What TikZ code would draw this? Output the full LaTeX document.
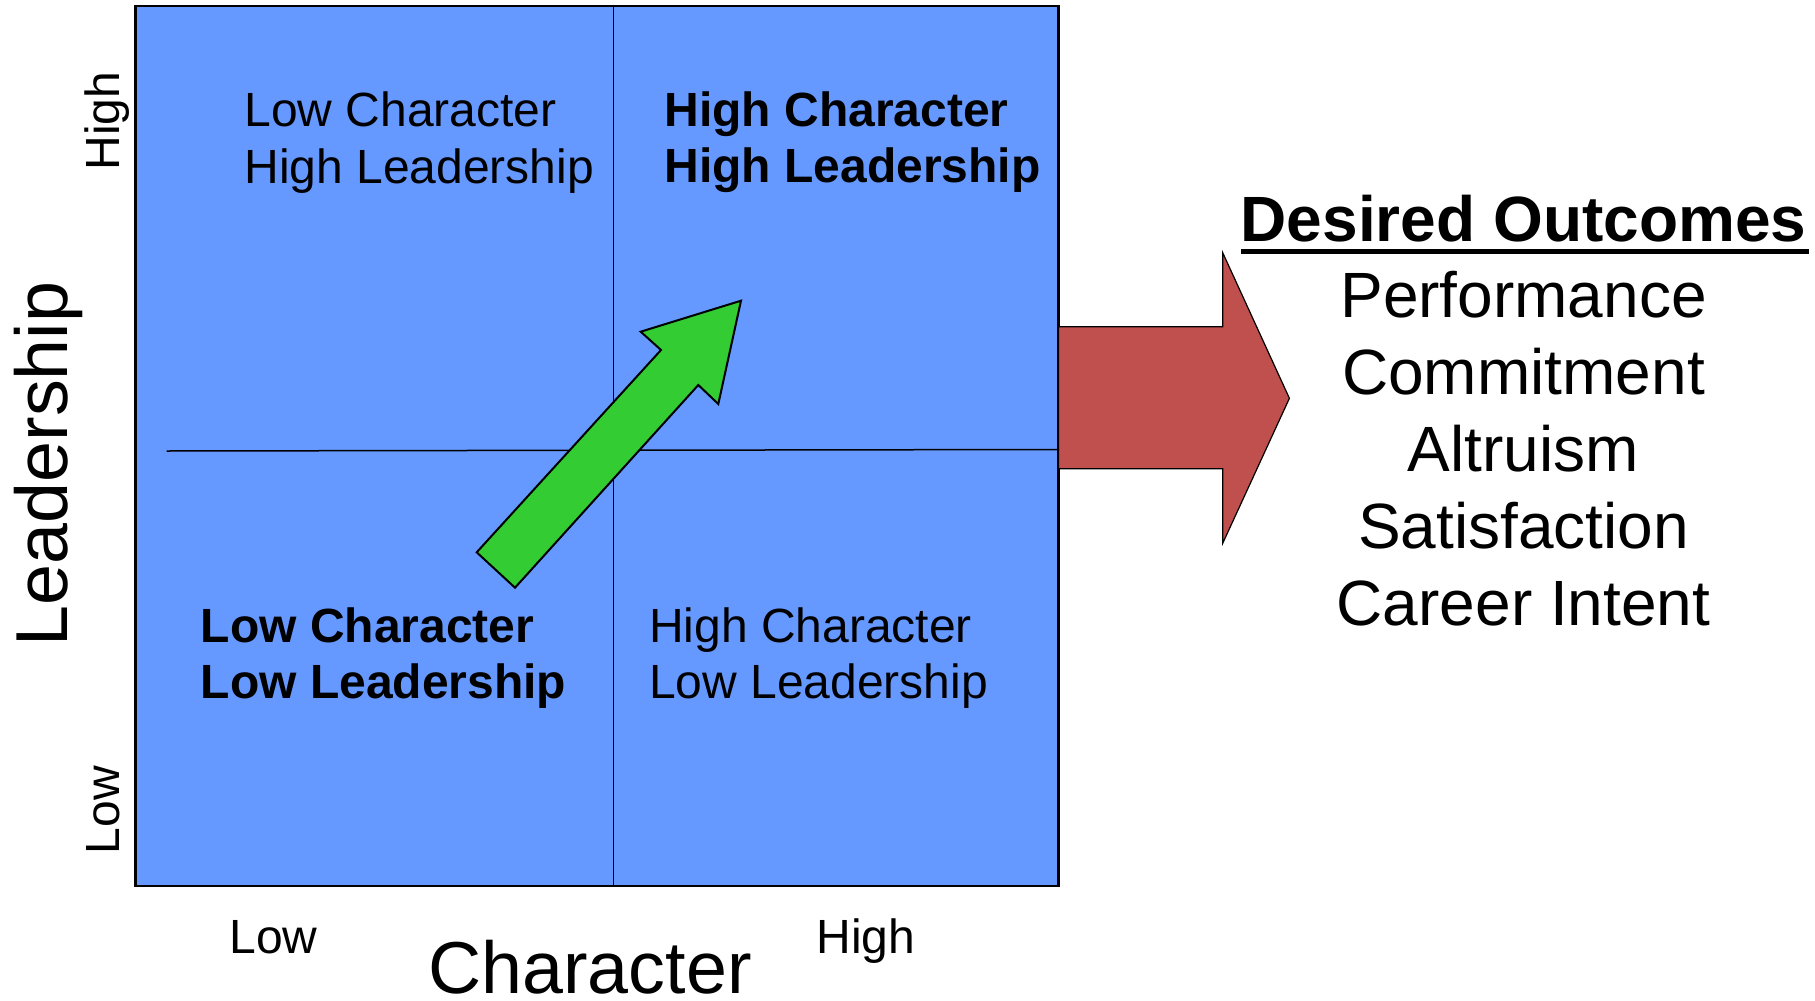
\documentclass[tikz,border=0pt]{standalone}
\usepackage{fontspec}
\setmainfont{Liberation Sans}
\usepackage{tikz}
\usetikzlibrary{positioning}

\definecolor{gridblue}{HTML}{6699FF}
\definecolor{upgreen}{HTML}{33CC33}
\definecolor{outred}{HTML}{C0504D}

\begin{document}
\begin{tikzpicture}[x=0.5pt, y=-0.5pt]
\tikzstyle{quadtext} = [inner sep=0, align=left, anchor=base west, font=\fontsize{24}{28.15}\selectfont]
\tikzstyle{quadbold} = [quadtext, font=\fontsize{24}{28.15}\selectfont\bfseries]
\tikzstyle{ticklabel} = [inner sep=0, anchor=base, font=\fontsize{24}{28}\selectfont]
\tikzstyle{axislabel} = [inner sep=0, anchor=base, font=\fontsize{36.8}{44}\selectfont]
\tikzstyle{outcome} = [inner sep=0, align=center, anchor=base, font=\fontsize{32}{38.5}\selectfont]

\useasboundingbox (0,0) rectangle (1815,1001);

% grid
\draw[fill=gridblue, line width=1.25pt] (135.5,6) rectangle (1058.5,886);

% red arrow to the outcomes
\draw[fill=outred, line width=0.6pt] (1058.5,326.7) -- (1222.7,326.7) -- (1222.7,252.7) -- (1289.4,398.3) -- (1222.7,543.3) -- (1222.7,468.7) -- (1058.5,468.7) -- cycle;

\draw[line width=0.65pt] (613.5,6) -- (613.5,886);
\draw[line width=0.75pt] (166.7,451) -- (1059,449.5);

% green arrow
\draw[fill=upgreen, line width=1pt] (476.7,552.3) -- (661,350) -- (640.7,331.7) -- (741,300.7) -- (718.3,404) -- (698.3,385) -- (515,587.7) -- cycle;

% base is the last line
\node (lchl) [quadtext] at (244,183.2) {Low Character\\High Leadership};
\node (hchl) [quadbold] at (664,182.8) {High Character\\High Leadership};
\node (lcll) [quadbold] at (200.5,698.3) {Low Character\\Low Leadership};
\node (hcll) [quadtext] at (648.8,698.3) {High Character\\Low Leadership};

\node (highlead) [ticklabel, rotate=90] at (119.5,121) {High};
\node (lowlead) [ticklabel, rotate=90] at (119.5,810) {Low};
\node (leadlabel) [axislabel, rotate=90] at (67.7,464) {Leadership};
\node (lowchar) [ticklabel] at (273.6,953) {Low};
\node (highchar) [ticklabel] at (866,953) {High};
\node (charlabel) [axislabel] at (590,993) {Character};

\node (outtitle) [inner sep=0, anchor=base, font=\fontsize{32}{38}\selectfont\bfseries] at (1523.5,241.7) {Desired Outcomes};
\draw[line width=2.5pt] ([shift={(1,9.5)}]outtitle.base west) -- ([shift={(2,9.5)}]outtitle.base east);
\node (outlist) [outcome] at (1523.5,625) {Performance\\Commitment\\Altruism\\Satisfaction\\Career Intent};

\end{tikzpicture}
\end{document}
